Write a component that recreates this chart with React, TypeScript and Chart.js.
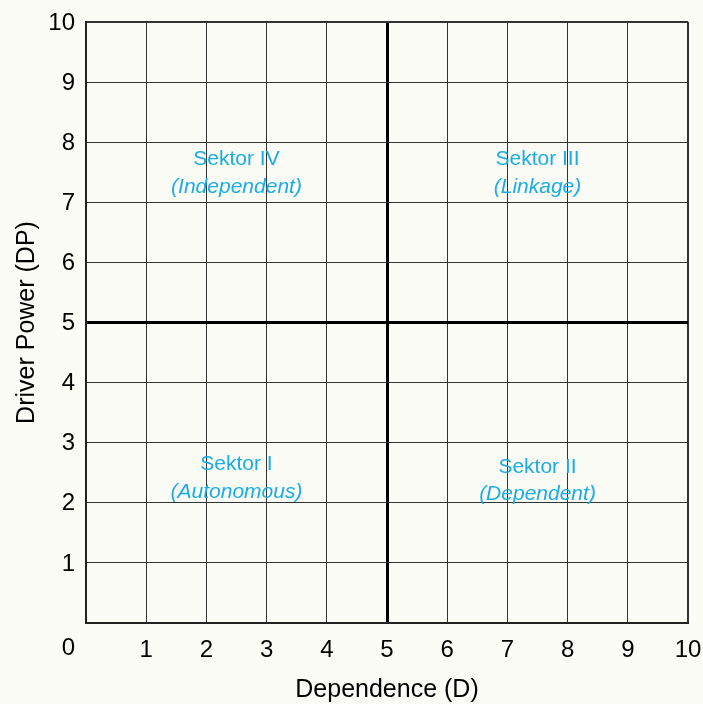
import React, { useEffect, useRef } from "react";
import { Chart, registerables } from "chart.js";

Chart.register(...registerables);

const xTicks = [0, 1, 2, 3, 4, 5, 6, 7, 8, 9, 10];
const yTicks = [0, 1, 2, 3, 4, 5, 6, 7, 8, 9, 10];
const originLabel = "0";
const xTitle = "Dependence (D)";
const yTitle = "Driver Power (DP)";
const quadrantTitles = ["Sektor IV", "Sektor III", "Sektor I", "Sektor II"];
const quadrantSubtitles = ["(Independent)", "(Linkage)", "(Autonomous)", "(Dependent)"];
const quadrantX = [2.5, 7.5, 2.5, 7.5];
const quadrantTitleY = [7.71, 7.71, 2.64, 2.6];
const quadrantSubtitleY = [7.26, 7.26, 2.17, 2.14];
const dividerValue = 5;

const FONT = '"Liberation Sans", Arial, sans-serif';
const LABEL_COLOR = "#1aace4";
const TICK_SIZE = 24;

export default function App() {
  const ref = useRef<HTMLCanvasElement>(null);

  useEffect(() => {
    if (!ref.current) return;

    const overlay = {
      id: "overlay",
      afterDraw(chart: any) {
        const { ctx, scales, chartArea } = chart;
        const xs = scales.x;
        const ys = scales.y;
        ctx.save();
        ctx.fillStyle = LABEL_COLOR;
        ctx.textAlign = "center";
        ctx.textBaseline = "middle";
        for (let i = 0; i < quadrantTitles.length; i++) {
          const px = xs.getPixelForValue(quadrantX[i]);
          ctx.font = `21px ${FONT}`;
          ctx.fillText(quadrantTitles[i], px, ys.getPixelForValue(quadrantTitleY[i]));
          ctx.font = `italic 21px ${FONT}`;
          ctx.fillText(quadrantSubtitles[i], px, ys.getPixelForValue(quadrantSubtitleY[i]));
        }
        // origin label
        ctx.fillStyle = "#000";
        ctx.font = `${TICK_SIZE}px ${FONT}`;
        ctx.textAlign = "right";
        ctx.textBaseline = "top";
        ctx.fillText(originLabel, chartArea.left - 11, chartArea.bottom + 13);
        ctx.restore();
      },
    };

    const gridWidth = (c: any) => {
      const v = c.tick ? c.tick.value : null;
      if (v === dividerValue) return 3;
      if (v === 0 || v === 10) return 2;
      return 1;
    };
    const gridColor = (c: any) => {
      const v = c.tick ? c.tick.value : null;
      if (v === dividerValue) return "#000";
      return "#333";
    };
    const zeroPad = (s: any) => {
      s.paddingLeft = 0;
      s.paddingRight = 0;
      s.paddingTop = 0;
      s.paddingBottom = 0;
    };

    const chart = new Chart(ref.current, {
      type: "scatter",
      data: { datasets: [] },
      options: {
        animation: false,
        responsive: false,
        events: [],
        layout: { padding: { top: 22, right: 15, left: 0, bottom: 0 } },
        plugins: { legend: { display: false }, tooltip: { enabled: false } },
        scales: {
          x: {
            type: "linear",
            min: 0,
            max: 10,
            afterFit: (s: any) => {
              s.height = 81;
              zeroPad(s);
            },
            afterBuildTicks: (s: any) => {
              s.ticks = xTicks.map((v) => ({ value: v }));
            },
            ticks: {
              padding: 13,
              maxRotation: 0,
              autoSkip: false,
              color: "#000",
              font: { family: FONT, size: TICK_SIZE },
              callback: (v: any) => (v === 0 ? "" : String(v)),
            },
            grid: { drawTicks: false, lineWidth: gridWidth, color: gridColor },
            border: { display: true, width: 2, color: "#222" },
            title: {
              display: true,
              text: xTitle,
              color: "#000",
              font: { family: FONT, size: 25 },
              padding: { top: 0, bottom: -1 },
            },
          },
          y: {
            type: "linear",
            min: 0,
            max: 10,
            afterFit: (s: any) => {
              s.width = 86;
              zeroPad(s);
            },
            afterBuildTicks: (s: any) => {
              s.ticks = yTicks.map((v) => ({ value: v }));
            },
            ticks: {
              padding: 11,
              labelOffset: 1,
              autoSkip: false,
              color: "#000",
              font: { family: FONT, size: TICK_SIZE },
              callback: (v: any) => (v === 0 ? "" : String(v)),
            },
            grid: { drawTicks: false, lineWidth: gridWidth, color: gridColor },
            border: { display: true, width: 2, color: "#222" },
            title: {
              display: true,
              text: yTitle,
              color: "#000",
              font: { family: FONT, size: 25 },
              padding: { top: 12, bottom: 0 },
            },
          },
        },
      },
      plugins: [overlay],
    } as any);

    return () => chart.destroy();
  }, []);

  return (
    <div
      style={{
        position: "absolute",
        left: 0,
        top: 0,
        width: 703,
        height: 704,
        background: "#fcfcf6",
      }}
    >
      <canvas ref={ref} width={703} height={704} style={{ display: "block" }} />
    </div>
  );
}
